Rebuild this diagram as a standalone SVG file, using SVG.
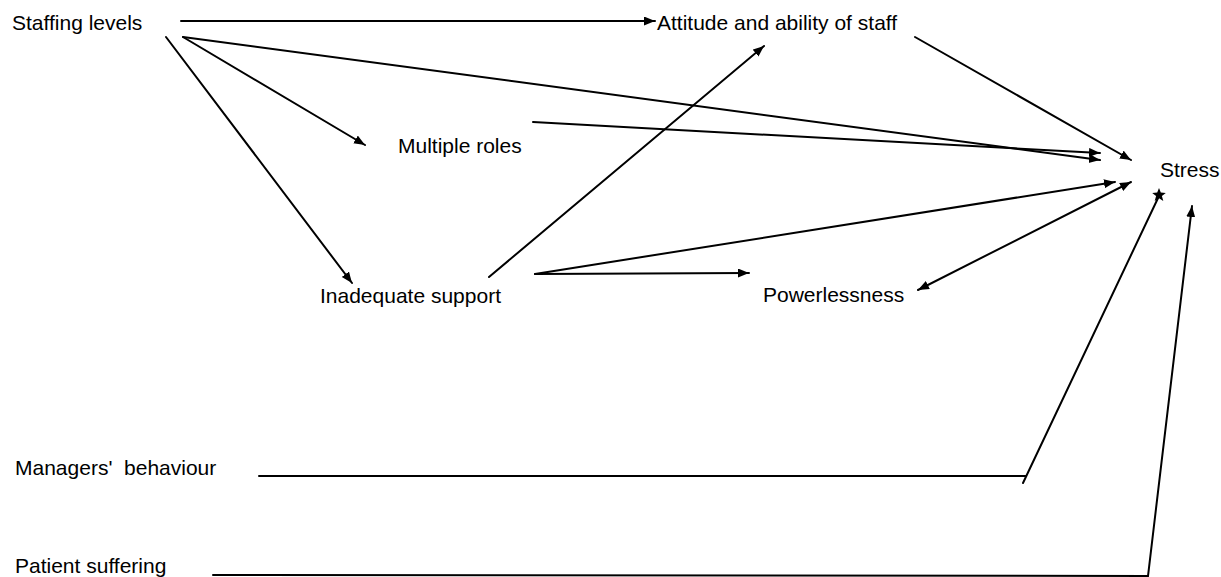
<svg xmlns="http://www.w3.org/2000/svg" width="1221" height="577" viewBox="0 0 1221 577">
<style>
text{font-family:"Liberation Sans",Arial,sans-serif;font-size:21px;fill:#000;white-space:pre}
.c path{fill:none;stroke:#000;stroke-width:2;stroke-linecap:round}
.c .a{marker-end:url(#ah)}
</style>
<defs>
<marker id="ah" markerUnits="userSpaceOnUse" markerWidth="12" markerHeight="10" refX="11" refY="4.5" orient="auto"><path d="M0,0 L11,4.5 L0,9 z" fill="#000"/></marker>
<marker id="ahs" markerUnits="userSpaceOnUse" markerWidth="12" markerHeight="10" refX="11" refY="4.5" orient="auto-start-reverse"><path d="M0,0 L11,4.5 L0,9 z" fill="#000"/></marker>
<marker id="star" markerUnits="userSpaceOnUse" markerWidth="16" markerHeight="16" refX="8" refY="8" orient="0"><polygon points="8,1 9.8,5.6 14.8,5.9 10.9,9 12.3,14 8,11.2 3.7,14 5.1,9 1.2,5.9 6.2,5.6" fill="#000"/></marker>
</defs>
<rect width="1221" height="577" fill="#fff"/>
<g id="staffing"><text x="12" y="30">Staffing levels</text></g>
<g id="attitude"><text x="657" y="30">Attitude and ability of staff</text></g>
<g id="multiple"><text x="398" y="153">Multiple roles</text></g>
<g id="inadequate"><text x="320" y="303">Inadequate support</text></g>
<g id="powerless"><text x="763" y="302">Powerlessness</text></g>
<g id="stress"><text x="1160" y="177">Stress</text></g>
<g id="managers"><text x="15" y="475">Managers'  behaviour</text></g>
<g id="patient"><text x="15" y="573">Patient suffering</text></g>
<g id="connectors" class="c">
<path class="a" d="M181 21 L655 21"/>
<path class="a" d="M183 37 L365 145"/>
<path class="a" d="M166 37 L352 283"/>
<path class="a" d="M183 37 L1100 160"/>
<path class="a" d="M533 122 L1100 153"/>
<path class="a" d="M915 37 L1131 160"/>
<path class="a" d="M489 277 L764 46"/>
<path class="a" d="M535 274 L1115 182"/>
<path class="a" d="M535 274 L749 273"/>
<path d="M918 290 L1131 182" style="marker-start:url(#ahs);marker-end:url(#ahs)"/>
<path d="M259 476 L1026 476 M1023 483 L1159 196"/>
<path d="M1159 196 L1159 195" style="marker-end:url(#star)"/>
<path class="a" d="M213 575 L1148 576 L1192 206"/>
</g>
</svg>
